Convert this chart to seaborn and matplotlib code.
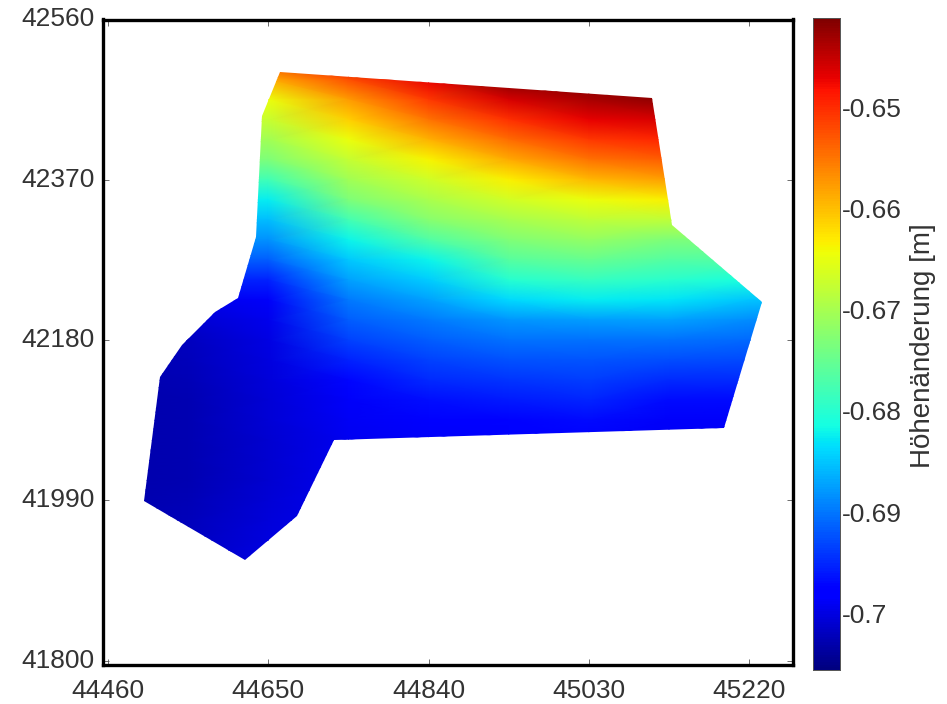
import numpy as np
import pandas as pd
import matplotlib
matplotlib.use("Agg")
import matplotlib.pyplot as plt
from matplotlib.patches import Polygon
import seaborn as sns

# Survey grid (easting / northing)
NORTHING = [42512.5, 42488.75, 42465.0, 42441.25, 42417.5, 42393.75, 42370.0, 42346.25, 42322.5,
            42298.75, 42275.0, 42251.25, 42227.5, 42203.75, 42180.0, 42156.25, 42132.5, 42108.75,
            42085.0, 42061.25, 42037.5, 42013.75, 41990.0, 41966.25, 41942.5, 41918.75, 41895.0]
Z_44460 = [-0.651, -0.659, -0.6648, -0.6676, -0.6704, -0.6732, -0.6781, -0.6826, -0.6855,
           -0.6884, -0.6917, -0.6965, -0.7005, -0.702, -0.7025, -0.703, -0.703, -0.703,
           -0.703, -0.703, -0.703, -0.703, -0.703, -0.703, -0.7028, -0.7026, -0.7025]
Z_44555 = [-0.651, -0.659, -0.6648, -0.6676, -0.6704, -0.6732, -0.6781, -0.6826, -0.6855,
           -0.6884, -0.6917, -0.6955, -0.6995, -0.701, -0.702, -0.7022, -0.7025, -0.7027,
           -0.7027, -0.7027, -0.7027, -0.7027, -0.7025, -0.7023, -0.702, -0.7018, -0.7015]
Z_44650 = [-0.651, -0.659, -0.6648, -0.6676, -0.6704, -0.6732, -0.6781, -0.6826, -0.6855,
           -0.6884, -0.6917, -0.6955, -0.6988, -0.6995, -0.700, -0.7003, -0.7005, -0.7007,
           -0.7008, -0.7009, -0.701, -0.701, -0.7008, -0.7005, -0.7002, -0.700, -0.6995]
Z_44745 = [-0.646, -0.6525, -0.6576, -0.6612, -0.6648, -0.6677, -0.6705, -0.6734, -0.6778,
           -0.6821, -0.6848, -0.6874, -0.6899, -0.6917, -0.6935, -0.6953, -0.6971, -0.6986,
           -0.699, -0.6992, -0.6993, -0.6993, -0.6993, -0.6993, -0.6993, -0.6993, -0.6993]
Z_44840 = [-0.640, -0.647, -0.651, -0.6549, -0.6591, -0.6638, -0.6669, -0.6697, -0.6724,
           -0.6769, -0.6821, -0.6847, -0.6874, -0.6898, -0.6916, -0.6933, -0.695, -0.6967,
           -0.6984, -0.6988, -0.699, -0.699, -0.699, -0.699, -0.699, -0.699, -0.699]
Z_44935 = [-0.635, -0.641, -0.6461, -0.6503, -0.6544, -0.6588, -0.6634, -0.6668, -0.6699,
           -0.673, -0.6764, -0.680, -0.6839, -0.6881, -0.6905, -0.6924, -0.6941, -0.6958,
           -0.6975, -0.6985, -0.699, -0.699, -0.699, -0.699, -0.699, -0.699, -0.699]
Z_45030 = [-0.630, -0.637, -0.6437, -0.6472, -0.6508, -0.6548, -0.6597, -0.6648, -0.6682,
           -0.6716, -0.675, -0.6787, -0.6825, -0.6875, -0.6905, -0.6921, -0.6936, -0.6952,
           -0.6968, -0.6984, -0.699, -0.699, -0.699, -0.699, -0.699, -0.699, -0.699]
Z_45125 = [-0.629, -0.636, -0.6422, -0.646, -0.6497, -0.6535, -0.6579, -0.6634, -0.6683,
           -0.6732, -0.6765, -0.6797, -0.6832, -0.6873, -0.6905, -0.6926, -0.6948, -0.6969,
           -0.6988, -0.699, -0.699, -0.699, -0.699, -0.699, -0.699, -0.699, -0.699]
Z_45220 = [-0.629, -0.636, -0.6422, -0.646, -0.6497, -0.6535, -0.6579, -0.6634, -0.6683,
           -0.6732, -0.6765, -0.681, -0.685, -0.6885, -0.6908, -0.693, -0.695, -0.697,
           -0.6988, -0.699, -0.699, -0.699, -0.699, -0.699, -0.699, -0.699, -0.699]
Z_45315 = [-0.629, -0.636, -0.6422, -0.646, -0.6497, -0.6535, -0.6579, -0.6634, -0.6683,
           -0.6732, -0.6765, -0.682, -0.686, -0.689, -0.691, -0.693, -0.695, -0.697,
           -0.6988, -0.699, -0.699, -0.699, -0.699, -0.699, -0.699, -0.699, -0.699]

# Outline of the area
BORDER_E = [44664, 45105, 45129, 45235.5, 45190.5, 44727.6, 44684, 44622,
            44502.6, 44521.6, 44547.6, 44586.7, 44614, 44635, 44642]
BORDER_N = [42498, 42466.5, 42316, 42225, 42076, 42061.5, 41971.6, 41919.5,
            41989, 42136, 42174, 42213, 42230, 42302, 42446]

X_TICKS = [44460, 44650, 44840, 45030, 45220]
Y_TICKS = [41800, 41990, 42180, 42370, 42560]
CBAR_TICKS = [-0.70, -0.69, -0.68, -0.67, -0.66, -0.65]
CBAR_LABELS = ["-0.7", "-0.69", "-0.68", "-0.67", "-0.66", "-0.65"]
X_RANGE = (44454, 45272)
Y_RANGE = (41795, 42560)
Z_RANGE = (-0.7056, -0.6412)

TEXT = "#333333"

sns.set_style("ticks")
plt.rcParams["font.family"] = ["Liberation Sans", "DejaVu Sans"]

table = pd.DataFrame({
    44460: Z_44460, 44555: Z_44555, 44650: Z_44650, 44745: Z_44745, 44840: Z_44840,
    44935: Z_44935, 45030: Z_45030, 45125: Z_45125, 45220: Z_45220, 45315: Z_45315,
}, index=NORTHING)


def col_pos(e):
    return (np.asarray(e, dtype=float) - table.columns[0]) / 95.0


def row_pos(n):
    return (table.index[0] - np.asarray(n, dtype=float)) / 23.75


W, H = 947, 704
fig = plt.figure(figsize=(W / 100, H / 100), dpi=100)
ax = fig.add_axes([103 / W, 1 - 665 / H, 690 / W, 645.5 / H])
cax = fig.add_axes([813 / W, 1 - 670 / H, 27 / W, 652 / H])

sns.heatmap(table, ax=ax, cbar_ax=cax, cmap="jet",
            vmin=Z_RANGE[0], vmax=Z_RANGE[1], shading="gouraud",
            cbar_kws={"ticks": CBAR_TICKS})

# only the surveyed area is coloured
mesh = ax.collections[0]
outline = Polygon(np.column_stack([col_pos(BORDER_E), row_pos(BORDER_N)]),
                  closed=True, transform=ax.transData, fill=False, edgecolor="none")
ax.add_patch(outline)
mesh.set_clip_path(outline)

ax.set_xlim(col_pos(X_RANGE[0]), col_pos(X_RANGE[1]))
ax.set_ylim(row_pos(Y_RANGE[0]), row_pos(Y_RANGE[1]))
ax.set_xticks(col_pos(X_TICKS))
ax.set_xticklabels([str(v) for v in X_TICKS], rotation=0, fontsize=19, color=TEXT)
ax.set_yticks(row_pos(Y_TICKS))
ax.set_yticklabels([str(v) for v in Y_TICKS], rotation=0, fontsize=19, color=TEXT)
ax.set_xlabel("")
ax.set_ylabel("")
ax.tick_params(direction="in", length=4, width=0.6, color="#555555",
               top=True, right=True, bottom=True, left=True)
ax.tick_params(axis="x", pad=10)
ax.tick_params(axis="y", pad=6)
for spine in ax.spines.values():
    spine.set_visible(True)
    spine.set_linewidth(2.4)
    spine.set_color("black")

cax.set_yticks(CBAR_TICKS)
cax.set_yticklabels(CBAR_LABELS, fontsize=19, color=TEXT)
cax.tick_params(direction="in", length=4, width=0.8, color="#333333", pad=1,
                left=True, right=True)
for spine in cax.spines.values():
    spine.set_visible(True)
    spine.set_linewidth(0.6)
    spine.set_color("#555555")
cax.set_ylabel("Höhenänderung [m]", fontsize=20, color=TEXT, va="center")
cax.yaxis.set_label_coords(4.07, 0.497)

fig.savefig("out.png", dpi=100)
